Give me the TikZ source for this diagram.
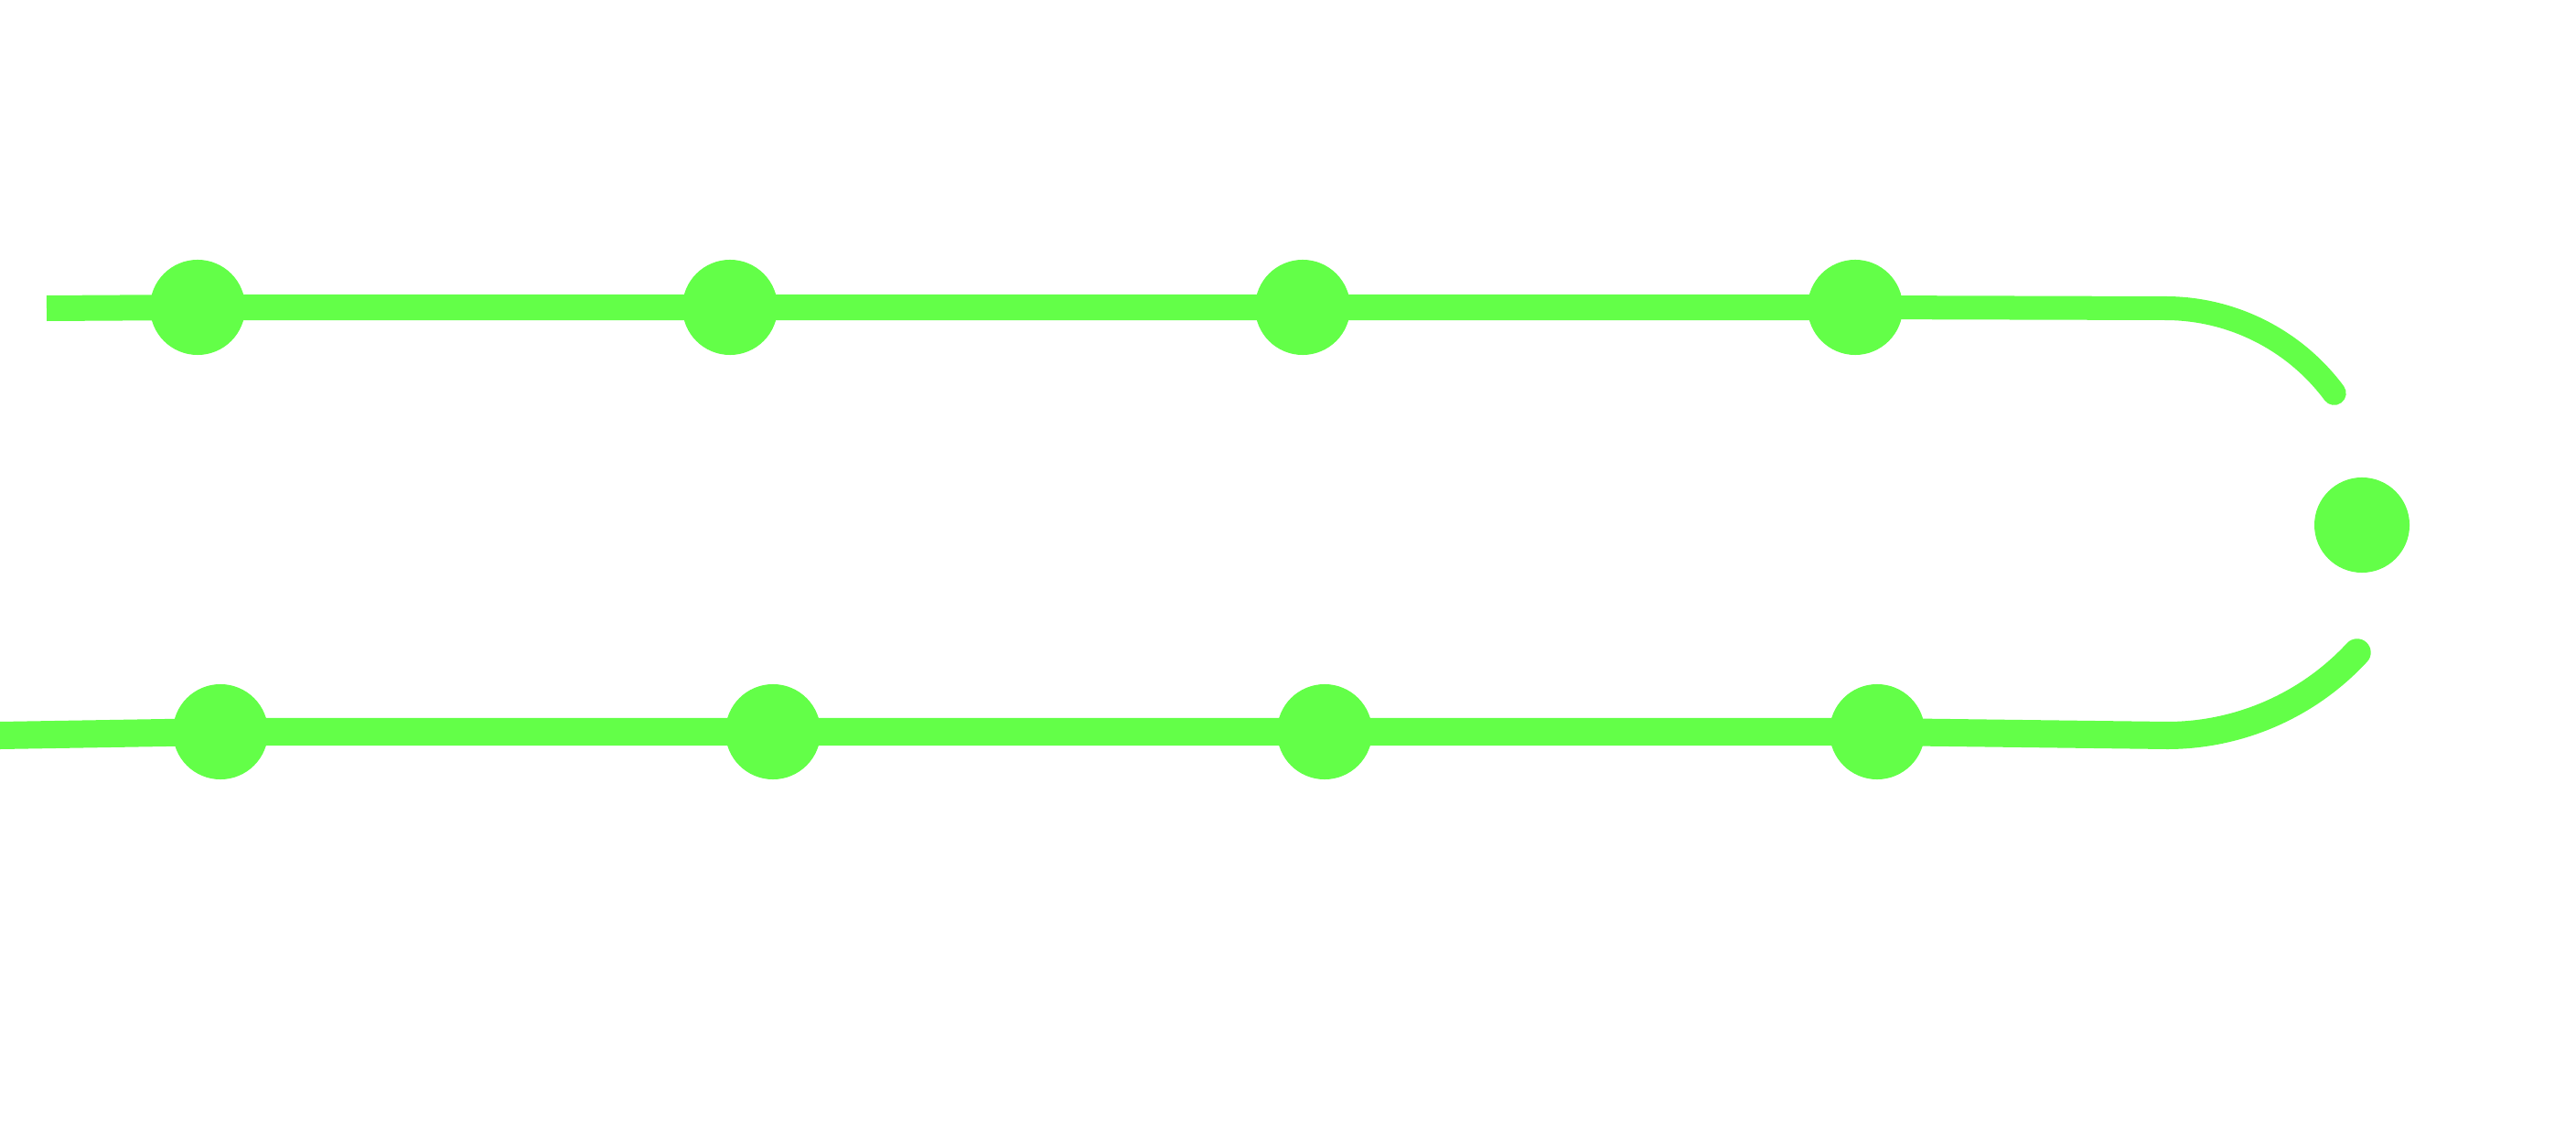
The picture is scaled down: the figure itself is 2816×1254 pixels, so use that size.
\documentclass[tikz,border=0pt]{standalone}
\usetikzlibrary{backgrounds}
\definecolor{lime}{RGB}{99,255,72}
\tikzset{
  dotnode/.style={circle, fill=lime, draw=none, inner sep=0pt, minimum size=1.04cm},
  track/.style={draw=lime, line width=0.28cm},
  trackend/.style={track, line cap=round}
}
\begin{document}
\begin{tikzpicture}[x=0.01cm, y=0.01cm]
\useasboundingbox (0,0) rectangle (2816,1254);
% top row
\coordinate (t0) at (51,917);
\node[dotnode] (t1) at (216,918) {};
\node[dotnode] (t2) at (798,918) {};
\node[dotnode] (t3) at (1424,918) {};
\node[dotnode] (t4) at (2028,918) {};
\coordinate (tc) at (2367,917);
% bottom row
\coordinate (b0) at (0,450);
\node[dotnode] (b1) at (241,454) {};
\node[dotnode] (b2) at (845,454) {};
\node[dotnode] (b3) at (1448,454) {};
\node[dotnode] (b4) at (2052,454) {};
\coordinate (bc) at (2369,450);
% middle dot
\node[dotnode] (m) at (2582,680) {};
\begin{pgfonlayer}{background}
\draw[track] (t0) -- (t1.center) -- (t2.center) -- (t3.center) -- (t4.center);
\draw[trackend, line width=0.26cm] (t4.center) -- (tc) arc[start angle=90, end angle=36.6, radius=230];
\draw[track, line width=0.30cm] (b0) -- (b1.center) -- (b2.center) -- (b3.center) -- (b4.center);
\draw[trackend, line width=0.30cm] (b4.center) -- (bc) arc[start angle=-90, end angle=-42.8, radius=283];
\end{pgfonlayer}
\end{tikzpicture}
\end{document}
